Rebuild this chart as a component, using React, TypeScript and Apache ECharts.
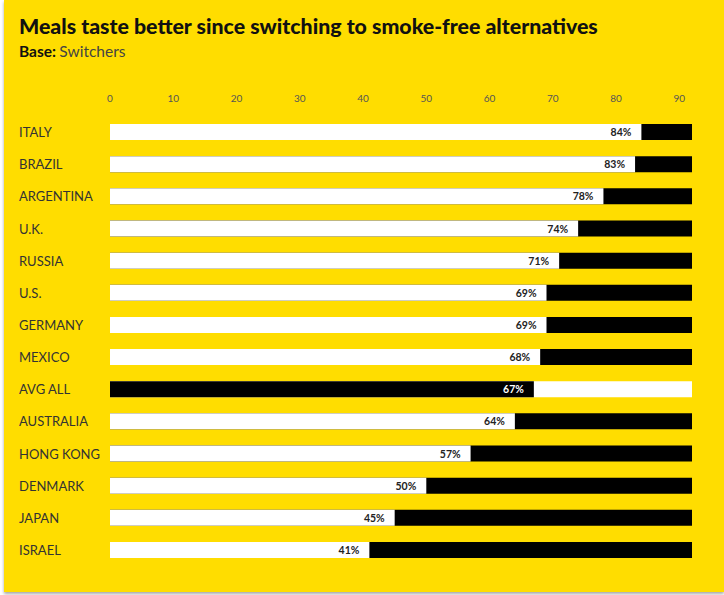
import React, { useEffect, useRef } from "react";
import * as echarts from "echarts";

const categories = ["ITALY", "BRAZIL", "ARGENTINA", "U.K.", "RUSSIA", "U.S.", "GERMANY", "MEXICO", "AVG ALL", "AUSTRALIA", "HONG KONG", "DENMARK", "JAPAN", "ISRAEL"];
const values = [84, 83, 78, 74, 71, 69, 69, 68, 67, 64, 57, 50, 45, 41];
const fullBar = [92, 92, 92, 92, 92, 92, 92, 92, 92, 92, 92, 92, 92, 92];
const highlight = "AVG ALL";

const YELLOW = "#FFDD00";
const FONT = "Lato, 'Open Sans', sans-serif";

export default function App() {
  const ref = useRef<HTMLDivElement>(null);
  useEffect(() => {
    const chart = echarts.init(ref.current!, null, { renderer: "svg" });
    chart.setOption({
      animation: false,
      backgroundColor: YELLOW,
      textStyle: { fontFamily: FONT },
      graphic: [
        {
          type: "text",
          left: 15,
          top: 15,
          style: { text: "Meals taste better since switching to smoke-free alternatives", font: `900 21.3px ${FONT}`, fill: "#111" },
        },
        {
          type: "text",
          left: 15,
          top: 43,
          style: {
            text: "{b|Base:} {r|Switchers}",
            rich: {
              b: { font: `bold 15.5px ${FONT}`, fill: "#111" },
              r: { font: `15.5px ${FONT}`, fill: "#444" },
            },
          },
        },
      ],
      grid: { left: 106, right: 32, top: 116, height: 450 },
      xAxis: {
        type: "value",
        position: "top",
        min: 0,
        max: 92,
        interval: 10,
        axisLine: { show: false },
        axisTick: { show: false },
        splitLine: { show: false },
        axisLabel: { color: "#555", fontSize: 10, margin: 13, showMaxLabel: false, fontFamily: FONT },
      },
      yAxis: {
        type: "category",
        data: categories,
        inverse: true,
        axisLine: { show: false },
        axisTick: { show: false },
        axisLabel: { align: "left", margin: 91, color: "#333", fontSize: 13, fontFamily: FONT },
      },
      series: [
        {
          type: "bar",
          barWidth: 16,
          barGap: "-100%",
          silent: true,
          data: fullBar.map((v, i) => ({
            value: v,
            itemStyle: { color: categories[i] === highlight ? "#fff" : "#000" },
          })),
        },
        {
          type: "bar",
          barWidth: 16,
          data: values.map((v, i) => ({
            value: v,
            itemStyle: { color: categories[i] === highlight ? "#000" : "#fff" },
            label: { color: categories[i] === highlight ? "#fff" : "#222" },
          })),
          label: {
            show: true,
            position: "insideRight",
            distance: 10,
            formatter: "{c}%",
            fontSize: 10.5,
            fontWeight: "bold",
            fontFamily: FONT,
          },
        },
      ],
    });
    return () => chart.dispose();
  }, []);
  return (
    <div
      style={{
        position: "absolute",
        left: 4,
        top: 0,
        width: 720,
        height: 592,
        boxShadow: "0 2px 3px rgba(0,0,0,0.35)",
      }}
    >
      <div ref={ref} style={{ width: 720, height: 592 }} />
    </div>
  );
}
